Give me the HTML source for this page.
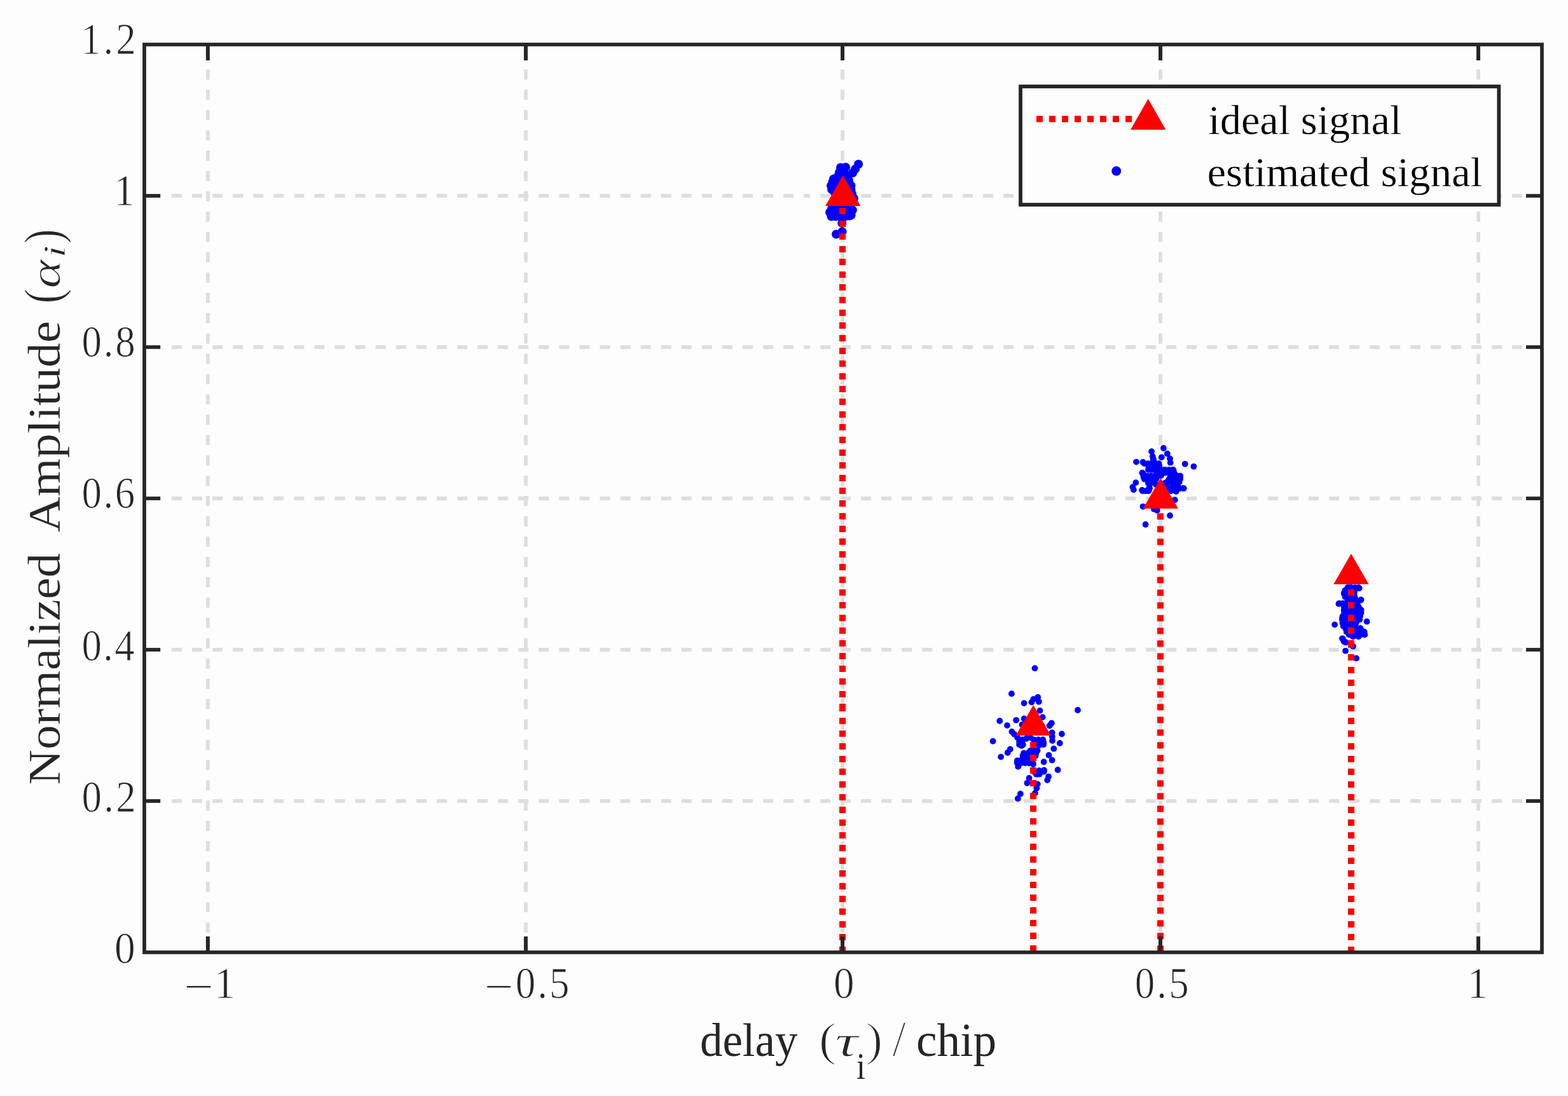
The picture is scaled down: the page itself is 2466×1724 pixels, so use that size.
<!DOCTYPE html>
<html lang="en"><head><meta charset="utf-8"><title>Normalized amplitude vs delay</title>
<style>html,body{margin:0;padding:0;background:#fdfdfd;}svg{display:block;}text{font-family:"Liberation Serif","DejaVu Serif",serif;}</style>
</head><body>
<svg width="2466" height="1724" viewBox="0 0 2466 1724">
<rect x="0" y="0" width="2466" height="1724" fill="#fdfdfd"/>
<g stroke="#dedede" stroke-width="5.8" fill="none">
<line x1="326.9" y1="1499.0" x2="326.9" y2="70.0" stroke-dasharray="16 15.95"/>
<line x1="826.9" y1="1499.0" x2="826.9" y2="70.0" stroke-dasharray="16 15.95"/>
<line x1="1325.0" y1="1499.0" x2="1325.0" y2="70.0" stroke-dasharray="16 15.95"/>
<line x1="1825.0" y1="1499.0" x2="1825.0" y2="70.0" stroke-dasharray="16 15.95"/>
<line x1="2325.0" y1="1499.0" x2="2325.0" y2="70.0" stroke-dasharray="16 15.95"/>
<line x1="237.9" y1="1260.0" x2="1248.2" y2="1260.0" stroke-dasharray="16 16.07"/>
<line x1="1264.2" y1="1260.0" x2="1274.0" y2="1260.0"/>
<line x1="1290.1" y1="1260.0" x2="2425.0" y2="1260.0" stroke-dasharray="16 16"/>
<line x1="237.9" y1="1022.0" x2="1248.2" y2="1022.0" stroke-dasharray="16 16.07"/>
<line x1="1264.2" y1="1022.0" x2="1274.0" y2="1022.0"/>
<line x1="1290.1" y1="1022.0" x2="2425.0" y2="1022.0" stroke-dasharray="16 16"/>
<line x1="237.9" y1="784.0" x2="1248.2" y2="784.0" stroke-dasharray="16 16.07"/>
<line x1="1264.2" y1="784.0" x2="1274.0" y2="784.0"/>
<line x1="1290.1" y1="784.0" x2="2425.0" y2="784.0" stroke-dasharray="16 16"/>
<line x1="237.9" y1="546.0" x2="1248.2" y2="546.0" stroke-dasharray="16 16.07"/>
<line x1="1264.2" y1="546.0" x2="1274.0" y2="546.0"/>
<line x1="1290.1" y1="546.0" x2="2425.0" y2="546.0" stroke-dasharray="16 16"/>
<line x1="237.9" y1="308.0" x2="1248.2" y2="308.0" stroke-dasharray="16 16.07"/>
<line x1="1264.2" y1="308.0" x2="1274.0" y2="308.0"/>
<line x1="1290.1" y1="308.0" x2="2425.0" y2="308.0" stroke-dasharray="16 16"/>
</g>
<g fill="#0000ff">
<circle cx="1350.1" cy="258.3" r="7.0"/>
<circle cx="1345.0" cy="266.0" r="7.0"/>
<circle cx="1341.0" cy="272.0" r="7.0"/>
<circle cx="1330.0" cy="263.0" r="7.0"/>
<circle cx="1322.0" cy="263.5" r="7.0"/>
<circle cx="1320.0" cy="271.0" r="7.0"/>
<circle cx="1318.0" cy="277.0" r="7.0"/>
<circle cx="1311.0" cy="281.5" r="7.0"/>
<circle cx="1309.5" cy="286.0" r="7.0"/>
<circle cx="1307.0" cy="292.0" r="7.0"/>
<circle cx="1308.0" cy="298.0" r="7.0"/>
<circle cx="1313.0" cy="303.0" r="7.0"/>
<circle cx="1338.5" cy="292.0" r="7.0"/>
<circle cx="1338.5" cy="299.0" r="7.0"/>
<circle cx="1340.0" cy="305.0" r="7.0"/>
<circle cx="1343.0" cy="312.0" r="7.0"/>
<circle cx="1326.0" cy="270.0" r="7.0"/>
<circle cx="1333.0" cy="276.0" r="7.0"/>
<circle cx="1326.0" cy="282.0" r="7.0"/>
<circle cx="1318.0" cy="288.0" r="7.0"/>
<circle cx="1330.0" cy="290.0" r="7.0"/>
<circle cx="1320.0" cy="296.0" r="7.0"/>
<circle cx="1335.0" cy="284.0" r="7.0"/>
<circle cx="1305.0" cy="334.0" r="7.0"/>
<circle cx="1307.5" cy="340.5" r="7.0"/>
<circle cx="1311.0" cy="331.0" r="7.0"/>
<circle cx="1340.8" cy="330.5" r="7.0"/>
<circle cx="1338.6" cy="338.5" r="7.0"/>
<circle cx="1336.0" cy="339.5" r="7.0"/>
<circle cx="1318.0" cy="333.0" r="7.0"/>
<circle cx="1326.0" cy="335.0" r="7.0"/>
<circle cx="1333.0" cy="333.0" r="7.0"/>
<circle cx="1320.0" cy="340.0" r="7.0"/>
<circle cx="1314.0" cy="340.5" r="7.0"/>
<circle cx="1328.0" cy="341.0" r="7.0"/>
<circle cx="1308.0" cy="328.0" r="7.0"/>
<circle cx="1338.0" cy="326.0" r="7.0"/>
<circle cx="1324.0" cy="328.0" r="7.0"/>
<circle cx="1316.0" cy="327.0" r="7.0"/>
<circle cx="1331.0" cy="327.0" r="7.0"/>
<circle cx="1324.2" cy="351.0" r="7.0"/>
<circle cx="1315.0" cy="368.5" r="7.0"/>
<circle cx="1324.5" cy="364.5" r="7.0"/>
<circle cx="1627.5" cy="1051.2" r="4.9"/>
<circle cx="1590.9" cy="1091.2" r="4.9"/>
<circle cx="1610.6" cy="1106.1" r="4.9"/>
<circle cx="1625.2" cy="1099.9" r="4.9"/>
<circle cx="1632.2" cy="1096.7" r="4.9"/>
<circle cx="1633.8" cy="1103.8" r="4.9"/>
<circle cx="1622.4" cy="1104.6" r="4.9"/>
<circle cx="1695.0" cy="1117.0" r="4.9"/>
<circle cx="1635.4" cy="1117.9" r="4.9"/>
<circle cx="1639.7" cy="1128.1" r="4.9"/>
<circle cx="1572.2" cy="1134.0" r="4.9"/>
<circle cx="1598.1" cy="1132.8" r="4.9"/>
<circle cx="1610.6" cy="1130.5" r="4.9"/>
<circle cx="1607.5" cy="1139.9" r="4.9"/>
<circle cx="1584.0" cy="1141.1" r="4.9"/>
<circle cx="1653.8" cy="1137.5" r="4.9"/>
<circle cx="1650.7" cy="1141.5" r="4.9"/>
<circle cx="1591.4" cy="1150.9" r="4.9"/>
<circle cx="1654.6" cy="1152.4" r="4.9"/>
<circle cx="1669.9" cy="1154.5" r="4.9"/>
<circle cx="1595.0" cy="1154.8" r="4.9"/>
<circle cx="1561.6" cy="1165.9" r="4.9"/>
<circle cx="1666.8" cy="1169.0" r="4.9"/>
<circle cx="1657.3" cy="1177.7" r="4.9"/>
<circle cx="1655.0" cy="1165.1" r="4.9"/>
<circle cx="1588.7" cy="1178.5" r="4.9"/>
<circle cx="1584.7" cy="1184.0" r="4.9"/>
<circle cx="1574.1" cy="1190.6" r="4.9"/>
<circle cx="1649.5" cy="1187.9" r="4.9"/>
<circle cx="1654.6" cy="1195.7" r="4.9"/>
<circle cx="1641.6" cy="1198.5" r="4.9"/>
<circle cx="1663.6" cy="1211.0" r="4.9"/>
<circle cx="1649.1" cy="1221.6" r="4.9"/>
<circle cx="1647.1" cy="1227.1" r="4.9"/>
<circle cx="1604.8" cy="1248.7" r="4.9"/>
<circle cx="1600.8" cy="1256.2" r="4.9"/>
<circle cx="1601.2" cy="1205.9" r="4.9"/>
<circle cx="1599.7" cy="1198.9" r="4.9"/>
<circle cx="1605.2" cy="1165.9" r="4.9"/>
<circle cx="1606.7" cy="1173.0" r="4.9"/>
<circle cx="1613.8" cy="1162.0" r="4.9"/>
<circle cx="1632.6" cy="1164.3" r="4.9"/>
<circle cx="1641.3" cy="1169.0" r="4.9"/>
<circle cx="1634.2" cy="1172.2" r="4.9"/>
<circle cx="1624.8" cy="1180.8" r="4.9"/>
<circle cx="1610.6" cy="1187.1" r="4.9"/>
<circle cx="1618.5" cy="1184.0" r="4.9"/>
<circle cx="1628.7" cy="1188.7" r="4.9"/>
<circle cx="1610.6" cy="1195.0" r="4.9"/>
<circle cx="1618.5" cy="1196.5" r="4.9"/>
<circle cx="1624.8" cy="1202.0" r="4.9"/>
<circle cx="1634.2" cy="1212.2" r="4.9"/>
<circle cx="1642.0" cy="1211.4" r="4.9"/>
<circle cx="1631.1" cy="1217.7" r="4.9"/>
<circle cx="1626.3" cy="1213.8" r="4.9"/>
<circle cx="1618.5" cy="1224.0" r="4.9"/>
<circle cx="1615.4" cy="1231.8" r="4.9"/>
<circle cx="1631.8" cy="1233.4" r="4.9"/>
<circle cx="1630.3" cy="1239.7" r="4.9"/>
<circle cx="1627.9" cy="1247.5" r="4.9"/>
<circle cx="1600.0" cy="1160.0" r="4.9"/>
<circle cx="1620.0" cy="1160.0" r="4.9"/>
<circle cx="1626.0" cy="1170.0" r="4.9"/>
<circle cx="1654.8" cy="1158.8" r="4.9"/>
<circle cx="1603.1" cy="1163.5" r="4.9"/>
<circle cx="1608.0" cy="1163.5" r="4.9"/>
<circle cx="1625.8" cy="1163.5" r="4.9"/>
<circle cx="1633.0" cy="1163.5" r="4.9"/>
<circle cx="1640.2" cy="1163.5" r="4.9"/>
<circle cx="1603.1" cy="1167.5" r="4.9"/>
<circle cx="1607.2" cy="1167.5" r="4.9"/>
<circle cx="1635.3" cy="1167.5" r="4.9"/>
<circle cx="1641.0" cy="1167.5" r="4.9"/>
<circle cx="1603.1" cy="1171.4" r="4.9"/>
<circle cx="1608.8" cy="1171.4" r="4.9"/>
<circle cx="1635.3" cy="1171.4" r="4.9"/>
<circle cx="1641.0" cy="1171.4" r="4.9"/>
<circle cx="1620.4" cy="1180.8" r="4.9"/>
<circle cx="1625.9" cy="1180.8" r="4.9"/>
<circle cx="1631.5" cy="1180.8" r="4.9"/>
<circle cx="1610.1" cy="1184.7" r="4.9"/>
<circle cx="1616.5" cy="1184.7" r="4.9"/>
<circle cx="1622.8" cy="1184.7" r="4.9"/>
<circle cx="1629.2" cy="1184.7" r="4.9"/>
<circle cx="1608.6" cy="1188.7" r="4.9"/>
<circle cx="1615.1" cy="1188.7" r="4.9"/>
<circle cx="1608.6" cy="1192.6" r="4.9"/>
<circle cx="1615.1" cy="1192.6" r="4.9"/>
<circle cx="1599.9" cy="1196.5" r="4.9"/>
<circle cx="1605.0" cy="1196.5" r="4.9"/>
<circle cx="1610.0" cy="1196.5" r="4.9"/>
<circle cx="1615.1" cy="1196.5" r="4.9"/>
<circle cx="1599.9" cy="1200.4" r="4.9"/>
<circle cx="1606.1" cy="1200.4" r="4.9"/>
<circle cx="1612.2" cy="1200.4" r="4.9"/>
<circle cx="1618.3" cy="1200.4" r="4.9"/>
<circle cx="1624.5" cy="1200.4" r="4.9"/>
<circle cx="1635.3" cy="1213.8" r="4.9"/>
<circle cx="1641.8" cy="1213.8" r="4.9"/>
<circle cx="1629.8" cy="1217.7" r="4.9"/>
<circle cx="1634.7" cy="1217.7" r="4.9"/>
<circle cx="1829.9" cy="705.0" r="4.9"/>
<circle cx="1811.1" cy="710.2" r="4.9"/>
<circle cx="1835.8" cy="713.7" r="4.9"/>
<circle cx="1826.8" cy="719.3" r="4.9"/>
<circle cx="1812.8" cy="717.9" r="4.9"/>
<circle cx="1840.0" cy="721.4" r="4.9"/>
<circle cx="1840.7" cy="727.7" r="4.9"/>
<circle cx="1787.0" cy="726.6" r="4.9"/>
<circle cx="1797.5" cy="727.0" r="4.9"/>
<circle cx="1863.7" cy="729.8" r="4.9"/>
<circle cx="1877.4" cy="733.8" r="4.9"/>
<circle cx="1814.2" cy="724.9" r="4.9"/>
<circle cx="1805.8" cy="731.9" r="4.9"/>
<circle cx="1816.3" cy="731.9" r="4.9"/>
<circle cx="1823.3" cy="733.3" r="4.9"/>
<circle cx="1797.5" cy="744.4" r="4.9"/>
<circle cx="1809.3" cy="738.8" r="4.9"/>
<circle cx="1819.8" cy="740.2" r="4.9"/>
<circle cx="1830.3" cy="740.2" r="4.9"/>
<circle cx="1845.6" cy="740.2" r="4.9"/>
<circle cx="1840.7" cy="745.8" r="4.9"/>
<circle cx="1849.1" cy="747.2" r="4.9"/>
<circle cx="1856.1" cy="749.3" r="4.9"/>
<circle cx="1798.8" cy="750.7" r="4.9"/>
<circle cx="1809.3" cy="751.4" r="4.9"/>
<circle cx="1818.4" cy="750.0" r="4.9"/>
<circle cx="1786.3" cy="759.1" r="4.9"/>
<circle cx="1781.4" cy="766.1" r="4.9"/>
<circle cx="1782.8" cy="770.3" r="4.9"/>
<circle cx="1796.1" cy="770.9" r="4.9"/>
<circle cx="1805.8" cy="759.8" r="4.9"/>
<circle cx="1807.2" cy="768.2" r="4.9"/>
<circle cx="1837.2" cy="756.3" r="4.9"/>
<circle cx="1847.7" cy="756.3" r="4.9"/>
<circle cx="1854.7" cy="754.2" r="4.9"/>
<circle cx="1844.2" cy="765.4" r="4.9"/>
<circle cx="1861.7" cy="768.2" r="4.9"/>
<circle cx="1853.3" cy="766.8" r="4.9"/>
<circle cx="1849.8" cy="773.0" r="4.9"/>
<circle cx="1840.7" cy="770.3" r="4.9"/>
<circle cx="1847.7" cy="786.3" r="4.9"/>
<circle cx="1797.5" cy="796.8" r="4.9"/>
<circle cx="1840.0" cy="811.0" r="4.9"/>
<circle cx="1801.6" cy="825.0" r="4.9"/>
<circle cx="1819.8" cy="802.8" r="4.9"/>
<circle cx="1814.9" cy="800.7" r="4.9"/>
<circle cx="1826.0" cy="748.0" r="4.9"/>
<circle cx="1832.0" cy="760.0" r="4.9"/>
<circle cx="1818.0" cy="762.0" r="4.9"/>
<circle cx="1813.6" cy="722.8" r="4.9"/>
<circle cx="1814.1" cy="722.8" r="4.9"/>
<circle cx="1799.7" cy="729.1" r="4.9"/>
<circle cx="1805.4" cy="729.1" r="4.9"/>
<circle cx="1811.1" cy="729.1" r="4.9"/>
<circle cx="1816.8" cy="729.1" r="4.9"/>
<circle cx="1822.5" cy="729.1" r="4.9"/>
<circle cx="1806.6" cy="734.0" r="4.9"/>
<circle cx="1812.1" cy="734.0" r="4.9"/>
<circle cx="1817.7" cy="734.0" r="4.9"/>
<circle cx="1823.2" cy="734.0" r="4.9"/>
<circle cx="1805.9" cy="738.8" r="4.9"/>
<circle cx="1812.4" cy="738.8" r="4.9"/>
<circle cx="1818.9" cy="738.8" r="4.9"/>
<circle cx="1825.4" cy="738.8" r="4.9"/>
<circle cx="1831.8" cy="738.8" r="4.9"/>
<circle cx="1838.3" cy="738.8" r="4.9"/>
<circle cx="1844.8" cy="738.8" r="4.9"/>
<circle cx="1796.4" cy="743.7" r="4.9"/>
<circle cx="1819.2" cy="743.7" r="4.9"/>
<circle cx="1825.9" cy="743.7" r="4.9"/>
<circle cx="1832.7" cy="743.7" r="4.9"/>
<circle cx="1839.4" cy="743.7" r="4.9"/>
<circle cx="1846.2" cy="743.7" r="4.9"/>
<circle cx="1798.3" cy="748.6" r="4.9"/>
<circle cx="1804.1" cy="748.6" r="4.9"/>
<circle cx="1810.0" cy="748.6" r="4.9"/>
<circle cx="1815.9" cy="748.6" r="4.9"/>
<circle cx="1821.8" cy="748.6" r="4.9"/>
<circle cx="1840.8" cy="748.6" r="4.9"/>
<circle cx="1845.9" cy="748.6" r="4.9"/>
<circle cx="1850.9" cy="748.6" r="4.9"/>
<circle cx="1856.0" cy="748.6" r="4.9"/>
<circle cx="1799.7" cy="753.5" r="4.9"/>
<circle cx="1805.9" cy="753.5" r="4.9"/>
<circle cx="1812.1" cy="753.5" r="4.9"/>
<circle cx="1818.3" cy="753.5" r="4.9"/>
<circle cx="1838.7" cy="753.5" r="4.9"/>
<circle cx="1844.5" cy="753.5" r="4.9"/>
<circle cx="1850.2" cy="753.5" r="4.9"/>
<circle cx="1856.0" cy="753.5" r="4.9"/>
<circle cx="1808.0" cy="758.4" r="4.9"/>
<circle cx="1814.8" cy="758.4" r="4.9"/>
<circle cx="1835.3" cy="758.4" r="4.9"/>
<circle cx="1841.7" cy="758.4" r="4.9"/>
<circle cx="1848.1" cy="758.4" r="4.9"/>
<circle cx="1854.6" cy="758.4" r="4.9"/>
<circle cx="1807.9" cy="763.3" r="4.9"/>
<circle cx="1834.4" cy="763.3" r="4.9"/>
<circle cx="1847.7" cy="763.3" r="4.9"/>
<circle cx="1807.9" cy="768.2" r="4.9"/>
<circle cx="1838.7" cy="768.2" r="4.9"/>
<circle cx="1844.3" cy="768.2" r="4.9"/>
<circle cx="1849.8" cy="768.2" r="4.9"/>
<circle cx="1855.3" cy="768.2" r="4.9"/>
<circle cx="1860.8" cy="768.2" r="4.9"/>
<circle cx="1796.9" cy="772.3" r="4.9"/>
<circle cx="1801.6" cy="772.3" r="4.9"/>
<circle cx="1806.4" cy="772.3" r="4.9"/>
<circle cx="1841.5" cy="772.3" r="4.9"/>
<circle cx="1849.0" cy="772.3" r="4.9"/>
<circle cx="2122.4" cy="924.2" r="4.9"/>
<circle cx="2137.7" cy="925.3" r="4.9"/>
<circle cx="2113.9" cy="932.7" r="4.9"/>
<circle cx="2128.0" cy="932.7" r="4.9"/>
<circle cx="2116.7" cy="938.3" r="4.9"/>
<circle cx="2140.5" cy="943.4" r="4.9"/>
<circle cx="2125.2" cy="941.7" r="4.9"/>
<circle cx="2105.4" cy="949.7" r="4.9"/>
<circle cx="2113.9" cy="950.8" r="4.9"/>
<circle cx="2133.7" cy="952.0" r="4.9"/>
<circle cx="2138.2" cy="958.2" r="4.9"/>
<circle cx="2113.9" cy="961.0" r="4.9"/>
<circle cx="2125.2" cy="962.2" r="4.9"/>
<circle cx="2140.5" cy="963.9" r="4.9"/>
<circle cx="2111.0" cy="972.4" r="4.9"/>
<circle cx="2136.5" cy="971.2" r="4.9"/>
<circle cx="2149.6" cy="977.7" r="4.9"/>
<circle cx="2099.1" cy="982.6" r="4.9"/>
<circle cx="2112.2" cy="980.9" r="4.9"/>
<circle cx="2130.9" cy="980.9" r="4.9"/>
<circle cx="2116.7" cy="986.5" r="4.9"/>
<circle cx="2139.4" cy="988.2" r="4.9"/>
<circle cx="2118.4" cy="993.9" r="4.9"/>
<circle cx="2145.0" cy="996.7" r="4.9"/>
<circle cx="2133.7" cy="995.0" r="4.9"/>
<circle cx="2128.0" cy="1000.9" r="4.9"/>
<circle cx="2136.5" cy="998.6" r="4.9"/>
<circle cx="2111.0" cy="1004.3" r="4.9"/>
<circle cx="2116.7" cy="1010.5" r="4.9"/>
<circle cx="2128.0" cy="1016.7" r="4.9"/>
<circle cx="2116.1" cy="1023.8" r="4.9"/>
<circle cx="2133.1" cy="1035.5" r="4.9"/>
<circle cx="2125.0" cy="952.0" r="4.9"/>
<circle cx="2125.0" cy="972.0" r="4.9"/>
<circle cx="2122.0" cy="984.0" r="4.9"/>
<circle cx="2119.4" cy="924.2" r="4.9"/>
<circle cx="2125.2" cy="924.2" r="4.9"/>
<circle cx="2130.9" cy="924.2" r="4.9"/>
<circle cx="2136.6" cy="924.2" r="4.9"/>
<circle cx="2115.5" cy="928.7" r="4.9"/>
<circle cx="2122.9" cy="928.7" r="4.9"/>
<circle cx="2130.4" cy="928.7" r="4.9"/>
<circle cx="2113.8" cy="933.8" r="4.9"/>
<circle cx="2119.1" cy="933.8" r="4.9"/>
<circle cx="2124.5" cy="933.8" r="4.9"/>
<circle cx="2129.8" cy="933.8" r="4.9"/>
<circle cx="2115.5" cy="938.9" r="4.9"/>
<circle cx="2122.9" cy="938.9" r="4.9"/>
<circle cx="2130.4" cy="938.9" r="4.9"/>
<circle cx="2119.4" cy="944.0" r="4.9"/>
<circle cx="2126.3" cy="944.0" r="4.9"/>
<circle cx="2133.2" cy="944.0" r="4.9"/>
<circle cx="2140.0" cy="944.0" r="4.9"/>
<circle cx="2106.4" cy="949.1" r="4.9"/>
<circle cx="2112.0" cy="949.1" r="4.9"/>
<circle cx="2117.6" cy="949.1" r="4.9"/>
<circle cx="2123.2" cy="949.1" r="4.9"/>
<circle cx="2128.8" cy="949.1" r="4.9"/>
<circle cx="2134.4" cy="949.1" r="4.9"/>
<circle cx="2113.8" cy="954.2" r="4.9"/>
<circle cx="2119.5" cy="954.2" r="4.9"/>
<circle cx="2125.2" cy="954.2" r="4.9"/>
<circle cx="2130.9" cy="954.2" r="4.9"/>
<circle cx="2136.6" cy="954.2" r="4.9"/>
<circle cx="2113.8" cy="959.3" r="4.9"/>
<circle cx="2120.5" cy="959.3" r="4.9"/>
<circle cx="2127.2" cy="959.3" r="4.9"/>
<circle cx="2133.9" cy="959.3" r="4.9"/>
<circle cx="2140.6" cy="959.3" r="4.9"/>
<circle cx="2114.3" cy="964.4" r="4.9"/>
<circle cx="2120.7" cy="964.4" r="4.9"/>
<circle cx="2127.2" cy="964.4" r="4.9"/>
<circle cx="2133.6" cy="964.4" r="4.9"/>
<circle cx="2140.0" cy="964.4" r="4.9"/>
<circle cx="2111.5" cy="969.5" r="4.9"/>
<circle cx="2117.0" cy="969.5" r="4.9"/>
<circle cx="2122.5" cy="969.5" r="4.9"/>
<circle cx="2127.9" cy="969.5" r="4.9"/>
<circle cx="2133.4" cy="969.5" r="4.9"/>
<circle cx="2138.9" cy="969.5" r="4.9"/>
<circle cx="2110.9" cy="974.6" r="4.9"/>
<circle cx="2116.4" cy="974.6" r="4.9"/>
<circle cx="2121.9" cy="974.6" r="4.9"/>
<circle cx="2127.4" cy="974.6" r="4.9"/>
<circle cx="2132.9" cy="974.6" r="4.9"/>
<circle cx="2138.3" cy="974.6" r="4.9"/>
<circle cx="2111.5" cy="979.7" r="4.9"/>
<circle cx="2116.8" cy="979.7" r="4.9"/>
<circle cx="2122.1" cy="979.7" r="4.9"/>
<circle cx="2127.4" cy="979.7" r="4.9"/>
<circle cx="2132.7" cy="979.7" r="4.9"/>
<circle cx="2112.6" cy="984.8" r="4.9"/>
<circle cx="2118.9" cy="984.8" r="4.9"/>
<circle cx="2125.2" cy="984.8" r="4.9"/>
<circle cx="2131.5" cy="984.8" r="4.9"/>
<circle cx="2116.6" cy="989.4" r="4.9"/>
<circle cx="2122.4" cy="989.4" r="4.9"/>
<circle cx="2128.3" cy="989.4" r="4.9"/>
<circle cx="2134.2" cy="989.4" r="4.9"/>
<circle cx="2140.0" cy="989.4" r="4.9"/>
<circle cx="2117.7" cy="993.9" r="4.9"/>
<circle cx="2123.3" cy="993.9" r="4.9"/>
<circle cx="2128.9" cy="993.9" r="4.9"/>
<circle cx="2134.5" cy="993.9" r="4.9"/>
<circle cx="2140.1" cy="993.9" r="4.9"/>
<circle cx="2145.7" cy="993.9" r="4.9"/>
<circle cx="2121.7" cy="998.4" r="4.9"/>
<circle cx="2127.8" cy="998.4" r="4.9"/>
<circle cx="2134.0" cy="998.4" r="4.9"/>
<circle cx="2140.1" cy="998.4" r="4.9"/>
<circle cx="2146.3" cy="998.4" r="4.9"/>
<circle cx="2127.9" cy="1001.4" r="4.9"/>
<circle cx="2136.6" cy="1001.4" r="4.9"/>
<circle cx="2111.6" cy="1004.8" r="4.9"/>
<circle cx="2113.8" cy="1009.4" r="4.9"/>
<circle cx="2115.1" cy="1009.4" r="4.9"/>
</g>
<g fill="#ff0000">
<rect x="1320.0" y="1489.00" width="10" height="9.00"/>
<rect x="1320.0" y="1469.00" width="10" height="10.00"/>
<rect x="1320.0" y="1449.00" width="10" height="10.00"/>
<rect x="1320.0" y="1429.00" width="10" height="10.00"/>
<rect x="1320.0" y="1409.00" width="10" height="10.00"/>
<rect x="1320.0" y="1389.00" width="10" height="10.00"/>
<rect x="1320.0" y="1369.00" width="10" height="10.00"/>
<rect x="1320.0" y="1349.00" width="10" height="10.00"/>
<rect x="1320.0" y="1329.00" width="10" height="10.00"/>
<rect x="1320.0" y="1309.00" width="10" height="10.00"/>
<rect x="1320.0" y="1289.00" width="10" height="10.00"/>
<rect x="1320.0" y="1269.00" width="10" height="10.00"/>
<rect x="1320.0" y="1249.00" width="10" height="10.00"/>
<rect x="1320.0" y="1229.00" width="10" height="10.00"/>
<rect x="1320.0" y="1209.00" width="10" height="10.00"/>
<rect x="1320.0" y="1189.00" width="10" height="10.00"/>
<rect x="1320.0" y="1169.00" width="10" height="10.00"/>
<rect x="1320.0" y="1149.00" width="10" height="10.00"/>
<rect x="1320.0" y="1129.00" width="10" height="10.00"/>
<rect x="1320" y="1107" width="10" height="12"/>
<rect x="1320.0" y="1087.00" width="10" height="10.00"/>
<rect x="1320.0" y="1067.00" width="10" height="10.00"/>
<rect x="1320.0" y="1047.00" width="10" height="10.00"/>
<rect x="1320.0" y="1027.00" width="10" height="10.00"/>
<rect x="1320.0" y="1007.00" width="10" height="10.00"/>
<rect x="1320.0" y="987.00" width="10" height="10.00"/>
<rect x="1320.0" y="967.00" width="10" height="10.00"/>
<rect x="1320.0" y="947.00" width="10" height="10.00"/>
<rect x="1320.0" y="927.00" width="10" height="10.00"/>
<rect x="1320.0" y="907.00" width="10" height="10.00"/>
<rect x="1320.0" y="887.00" width="10" height="10.00"/>
<rect x="1320.0" y="867.00" width="10" height="10.00"/>
<rect x="1320.0" y="847.00" width="10" height="10.00"/>
<rect x="1320.0" y="827.00" width="10" height="10.00"/>
<rect x="1320.0" y="807.00" width="10" height="10.00"/>
<rect x="1320.0" y="787.00" width="10" height="10.00"/>
<rect x="1320.0" y="767.00" width="10" height="10.00"/>
<rect x="1320.0" y="747.00" width="10" height="10.00"/>
<rect x="1320.0" y="727.00" width="10" height="10.00"/>
<rect x="1320.0" y="707.00" width="10" height="10.00"/>
<rect x="1320.0" y="687.00" width="10" height="10.00"/>
<rect x="1320.0" y="667.00" width="10" height="10.00"/>
<rect x="1320.0" y="647.00" width="10" height="10.00"/>
<rect x="1320.0" y="627.00" width="10" height="10.00"/>
<rect x="1320.0" y="607.00" width="10" height="10.00"/>
<rect x="1320.0" y="587.00" width="10" height="10.00"/>
<rect x="1320.0" y="567.00" width="10" height="10.00"/>
<rect x="1320.0" y="547.00" width="10" height="10.00"/>
<rect x="1320.0" y="527.00" width="10" height="10.00"/>
<rect x="1320.0" y="507.00" width="10" height="10.00"/>
<rect x="1320.0" y="487.00" width="10" height="10.00"/>
<rect x="1320.0" y="467.00" width="10" height="10.00"/>
<rect x="1320.0" y="447.00" width="10" height="10.00"/>
<rect x="1320.0" y="427.00" width="10" height="10.00"/>
<rect x="1320.0" y="407.00" width="10" height="10.00"/>
<rect x="1320.0" y="387.00" width="10" height="10.00"/>
<rect x="1320.0" y="367.00" width="10" height="10.00"/>
<rect x="1320.0" y="347.00" width="10" height="10.00"/>
<rect x="1320.0" y="327.00" width="10" height="10.00"/>
<rect x="1320.0" y="308.00" width="10" height="9.00"/>
<rect x="1620.0" y="1487.00" width="10" height="10.00"/>
<rect x="1620.0" y="1467.00" width="10" height="10.00"/>
<rect x="1620.0" y="1447.00" width="10" height="10.00"/>
<rect x="1620.0" y="1427.00" width="10" height="10.00"/>
<rect x="1620.0" y="1407.00" width="10" height="10.00"/>
<rect x="1620.0" y="1387.00" width="10" height="10.00"/>
<rect x="1620.0" y="1367.00" width="10" height="10.00"/>
<rect x="1620.0" y="1347.00" width="10" height="10.00"/>
<rect x="1620.0" y="1327.00" width="10" height="10.00"/>
<rect x="1620.0" y="1307.00" width="10" height="10.00"/>
<rect x="1620.0" y="1287.00" width="10" height="10.00"/>
<rect x="1620.0" y="1267.00" width="10" height="10.00"/>
<rect x="1620.0" y="1247.00" width="10" height="10.00"/>
<rect x="1620.0" y="1227.00" width="10" height="10.00"/>
<rect x="1620.0" y="1207.00" width="10" height="10.00"/>
<rect x="1620.0" y="1187.00" width="10" height="10.00"/>
<rect x="1620.0" y="1167.00" width="10" height="10.00"/>
<rect x="1620.0" y="1147.00" width="10" height="10.00"/>
<rect x="1820.0" y="1487.40" width="10" height="10.00"/>
<rect x="1820.0" y="1467.40" width="10" height="10.00"/>
<rect x="1820.0" y="1447.40" width="10" height="10.00"/>
<rect x="1820.0" y="1427.40" width="10" height="10.00"/>
<rect x="1820.0" y="1407.40" width="10" height="10.00"/>
<rect x="1820.0" y="1387.40" width="10" height="10.00"/>
<rect x="1820.0" y="1367.40" width="10" height="10.00"/>
<rect x="1820.0" y="1347.40" width="10" height="10.00"/>
<rect x="1820.0" y="1327.40" width="10" height="10.00"/>
<rect x="1820.0" y="1307.40" width="10" height="10.00"/>
<rect x="1820.0" y="1287.40" width="10" height="10.00"/>
<rect x="1820.0" y="1267.40" width="10" height="10.00"/>
<rect x="1820.0" y="1247.40" width="10" height="10.00"/>
<rect x="1820.0" y="1227.40" width="10" height="10.00"/>
<rect x="1820.0" y="1207.40" width="10" height="10.00"/>
<rect x="1820.0" y="1187.40" width="10" height="10.00"/>
<rect x="1820.0" y="1167.40" width="10" height="10.00"/>
<rect x="1820.0" y="1147.40" width="10" height="10.00"/>
<rect x="1820.0" y="1127.40" width="10" height="10.00"/>
<rect x="1820.0" y="1107.40" width="10" height="10.00"/>
<rect x="1820.0" y="1087.40" width="10" height="10.00"/>
<rect x="1820.0" y="1067.40" width="10" height="10.00"/>
<rect x="1820.0" y="1047.40" width="10" height="10.00"/>
<rect x="1820.0" y="1027.40" width="10" height="10.00"/>
<rect x="1820.0" y="1007.40" width="10" height="10.00"/>
<rect x="1820.0" y="987.40" width="10" height="10.00"/>
<rect x="1820.0" y="967.40" width="10" height="10.00"/>
<rect x="1820.0" y="947.40" width="10" height="10.00"/>
<rect x="1820.0" y="927.40" width="10" height="10.00"/>
<rect x="1820.0" y="907.40" width="10" height="10.00"/>
<rect x="1820.0" y="887.40" width="10" height="10.00"/>
<rect x="1820.0" y="867.40" width="10" height="10.00"/>
<rect x="1820.0" y="847.40" width="10" height="10.00"/>
<rect x="1820.0" y="827.40" width="10" height="10.00"/>
<rect x="1820.0" y="807.40" width="10" height="10.00"/>
<rect x="1820.0" y="787.40" width="10" height="10.00"/>
<rect x="2120.0" y="1489.00" width="10" height="9.00"/>
<rect x="2120.0" y="1469.00" width="10" height="10.00"/>
<rect x="2120.0" y="1449.00" width="10" height="10.00"/>
<rect x="2120.0" y="1429.00" width="10" height="10.00"/>
<rect x="2120.0" y="1409.00" width="10" height="10.00"/>
<rect x="2120.0" y="1389.00" width="10" height="10.00"/>
<rect x="2120.0" y="1369.00" width="10" height="10.00"/>
<rect x="2120.0" y="1349.00" width="10" height="10.00"/>
<rect x="2120.0" y="1329.00" width="10" height="10.00"/>
<rect x="2120.0" y="1309.00" width="10" height="10.00"/>
<rect x="2120.0" y="1289.00" width="10" height="10.00"/>
<rect x="2120.0" y="1269.00" width="10" height="10.00"/>
<rect x="2120.0" y="1249.00" width="10" height="10.00"/>
<rect x="2120.0" y="1229.00" width="10" height="10.00"/>
<rect x="2120.0" y="1209.00" width="10" height="10.00"/>
<rect x="2120.0" y="1189.00" width="10" height="10.00"/>
<rect x="2120.0" y="1169.00" width="10" height="10.00"/>
<rect x="2120.0" y="1149.00" width="10" height="10.00"/>
<rect x="2120.0" y="1129.00" width="10" height="10.00"/>
<rect x="2120.0" y="1109.00" width="10" height="10.00"/>
<rect x="2120.0" y="1089.00" width="10" height="10.00"/>
<rect x="2120.0" y="1069.00" width="10" height="10.00"/>
<rect x="2120.0" y="1049.00" width="10" height="10.00"/>
<rect x="2120.0" y="1029.00" width="10" height="10.00"/>
<rect x="2120" y="1007" width="10" height="12"/>
<rect x="2120.0" y="987.00" width="10" height="10.00"/>
<rect x="2120.0" y="967.00" width="10" height="10.00"/>
<rect x="2120.0" y="947.00" width="10" height="10.00"/>
<rect x="2120.0" y="927.00" width="10" height="10.00"/>
<rect x="2120.0" y="907.00" width="10" height="10.00"/>
<polygon points="1325.7,276.0 1353.4,324.1 1298.0,324.1"/>
<polygon points="1625.2,1109.0 1652.9,1157.1 1597.5,1157.1"/>
<polygon points="1825.3,752.0 1853.0,800.1 1797.6,800.1"/>
<polygon points="2125.0,871.0 2152.7,919.1 2097.3,919.1"/>
</g>
<g stroke="#262626" stroke-width="5.7" fill="none" stroke-linecap="butt">
<rect x="227.0" y="70.0" width="2198.0" height="1428.0"/>
<line x1="326.9" y1="1498.0" x2="326.9" y2="1473.0" stroke-width="6"/>
<line x1="326.9" y1="70.0" x2="326.9" y2="95.0" stroke-width="6"/>
<line x1="826.9" y1="1498.0" x2="826.9" y2="1473.0" stroke-width="6"/>
<line x1="826.9" y1="70.0" x2="826.9" y2="95.0" stroke-width="6"/>
<line x1="1325.0" y1="1498.0" x2="1325.0" y2="1473.0" stroke-width="6"/>
<line x1="1325.0" y1="70.0" x2="1325.0" y2="95.0" stroke-width="6"/>
<line x1="1825.0" y1="1498.0" x2="1825.0" y2="1473.0" stroke-width="6"/>
<line x1="1825.0" y1="70.0" x2="1825.0" y2="95.0" stroke-width="6"/>
<line x1="2325.0" y1="1498.0" x2="2325.0" y2="1473.0" stroke-width="6"/>
<line x1="2325.0" y1="70.0" x2="2325.0" y2="95.0" stroke-width="6"/>
<line x1="227.0" y1="1260.0" x2="252.0" y2="1260.0"/>
<line x1="2425.0" y1="1260.0" x2="2400.0" y2="1260.0"/>
<line x1="227.0" y1="1022.0" x2="252.0" y2="1022.0"/>
<line x1="2425.0" y1="1022.0" x2="2400.0" y2="1022.0"/>
<line x1="227.0" y1="784.0" x2="252.0" y2="784.0"/>
<line x1="2425.0" y1="784.0" x2="2400.0" y2="784.0"/>
<line x1="227.0" y1="546.0" x2="252.0" y2="546.0"/>
<line x1="2425.0" y1="546.0" x2="2400.0" y2="546.0"/>
<line x1="227.0" y1="308.0" x2="252.0" y2="308.0"/>
<line x1="2425.0" y1="308.0" x2="2400.0" y2="308.0"/>
</g>
<rect x="1605" y="136" width="752.3" height="186" fill="#fdfdfd" stroke="#262626" stroke-width="5.8"/>
<g fill="#ff0000">
<rect x="1630.0" y="182.2" width="10" height="10"/>
<rect x="1650.0" y="182.2" width="10" height="10"/>
<rect x="1670.0" y="182.2" width="10" height="10"/>
<rect x="1690.0" y="182.2" width="10" height="10"/>
<rect x="1710.0" y="182.2" width="10" height="10"/>
<rect x="1730.0" y="182.2" width="10" height="10"/>
<rect x="1750.0" y="182.2" width="10" height="10"/>
<rect x="1770.0" y="182.2" width="10" height="10"/>
<polygon points="1805.7,155.4 1833.4,203.9 1778.0,203.9"/>
</g>
<circle cx="1755.7" cy="269" r="7.5" fill="#0000ff"/>
<text xml:space="preserve" fill="#262626"><tspan x="127.14" y="85.20" font-size="69.50" textLength="31.45" lengthAdjust="spacingAndGlyphs" stroke="#fdfdfd" stroke-width="1.00" paint-order="fill stroke" stroke-linejoin="round">1</tspan><tspan x="162.54" y="85.20" font-size="69.50" textLength="15.72" lengthAdjust="spacingAndGlyphs" stroke="#fdfdfd" stroke-width="1.00" paint-order="fill stroke" stroke-linejoin="round">.</tspan><tspan x="182.21" y="85.20" font-size="69.50" textLength="31.45" lengthAdjust="spacingAndGlyphs" stroke="#fdfdfd" stroke-width="1.00" paint-order="fill stroke" stroke-linejoin="round">2</tspan></text>
<text xml:space="preserve" fill="#262626"><tspan x="179.06" y="323.20" font-size="69.50" textLength="33.00" lengthAdjust="spacingAndGlyphs" stroke="#fdfdfd" stroke-width="1.00" paint-order="fill stroke" stroke-linejoin="round">1</tspan></text>
<text xml:space="preserve" fill="#262626"><tspan x="128.58" y="560.80" font-size="69.50" textLength="31.45" lengthAdjust="spacingAndGlyphs" stroke="#fdfdfd" stroke-width="1.00" paint-order="fill stroke" stroke-linejoin="round">0</tspan><tspan x="162.79" y="560.80" font-size="69.50" textLength="15.72" lengthAdjust="spacingAndGlyphs" stroke="#fdfdfd" stroke-width="1.00" paint-order="fill stroke" stroke-linejoin="round">.</tspan><tspan x="181.27" y="560.80" font-size="69.50" textLength="31.45" lengthAdjust="spacingAndGlyphs" stroke="#fdfdfd" stroke-width="1.00" paint-order="fill stroke" stroke-linejoin="round">8</tspan></text>
<text xml:space="preserve" fill="#262626"><tspan x="128.58" y="798.70" font-size="69.50" textLength="31.45" lengthAdjust="spacingAndGlyphs" stroke="#fdfdfd" stroke-width="1.00" paint-order="fill stroke" stroke-linejoin="round">0</tspan><tspan x="162.47" y="798.70" font-size="69.50" textLength="15.72" lengthAdjust="spacingAndGlyphs" stroke="#fdfdfd" stroke-width="1.00" paint-order="fill stroke" stroke-linejoin="round">.</tspan><tspan x="180.64" y="798.70" font-size="69.50" textLength="31.45" lengthAdjust="spacingAndGlyphs" stroke="#fdfdfd" stroke-width="1.00" paint-order="fill stroke" stroke-linejoin="round">6</tspan></text>
<text xml:space="preserve" fill="#262626"><tspan x="128.58" y="1038.80" font-size="69.50" textLength="31.45" lengthAdjust="spacingAndGlyphs" stroke="#fdfdfd" stroke-width="1.00" paint-order="fill stroke" stroke-linejoin="round">0</tspan><tspan x="162.25" y="1038.80" font-size="69.50" textLength="15.72" lengthAdjust="spacingAndGlyphs" stroke="#fdfdfd" stroke-width="1.00" paint-order="fill stroke" stroke-linejoin="round">.</tspan><tspan x="180.19" y="1038.80" font-size="69.50" textLength="31.45" lengthAdjust="spacingAndGlyphs" stroke="#fdfdfd" stroke-width="1.00" paint-order="fill stroke" stroke-linejoin="round">4</tspan></text>
<text xml:space="preserve" fill="#262626"><tspan x="128.58" y="1276.80" font-size="69.50" textLength="31.45" lengthAdjust="spacingAndGlyphs" stroke="#fdfdfd" stroke-width="1.00" paint-order="fill stroke" stroke-linejoin="round">0</tspan><tspan x="163.26" y="1276.80" font-size="69.50" textLength="15.72" lengthAdjust="spacingAndGlyphs" stroke="#fdfdfd" stroke-width="1.00" paint-order="fill stroke" stroke-linejoin="round">.</tspan><tspan x="182.21" y="1276.80" font-size="69.50" textLength="31.45" lengthAdjust="spacingAndGlyphs" stroke="#fdfdfd" stroke-width="1.00" paint-order="fill stroke" stroke-linejoin="round">2</tspan></text>
<text xml:space="preserve" fill="#262626"><tspan x="180.08" y="1514.80" font-size="69.50" textLength="32.74" lengthAdjust="spacingAndGlyphs" stroke="#fdfdfd" stroke-width="1.00" paint-order="fill stroke" stroke-linejoin="round">0</tspan></text>
<text xml:space="preserve" fill="#262626"><tspan x="289.16" y="1573.98" font-size="66.00" textLength="46.70" lengthAdjust="spacingAndGlyphs" stroke="#fdfdfd" stroke-width="0.80" paint-order="fill stroke" stroke-linejoin="round">−</tspan><tspan x="336.86" y="1569.50" font-size="69.50" textLength="33.57" lengthAdjust="spacingAndGlyphs" stroke="#fdfdfd" stroke-width="1.00" paint-order="fill stroke" stroke-linejoin="round">1</tspan></text>
<text xml:space="preserve" fill="#262626"><tspan x="761.86" y="1573.98" font-size="66.00" textLength="45.60" lengthAdjust="spacingAndGlyphs" stroke="#fdfdfd" stroke-width="0.80" paint-order="fill stroke" stroke-linejoin="round">−</tspan><tspan x="810.68" y="1569.50" font-size="69.50" textLength="31.45" lengthAdjust="spacingAndGlyphs" stroke="#fdfdfd" stroke-width="1.00" paint-order="fill stroke" stroke-linejoin="round">0</tspan><tspan x="845.19" y="1569.50" font-size="69.50" textLength="15.72" lengthAdjust="spacingAndGlyphs" stroke="#fdfdfd" stroke-width="1.00" paint-order="fill stroke" stroke-linejoin="round">.</tspan><tspan x="863.97" y="1569.50" font-size="69.50" textLength="31.45" lengthAdjust="spacingAndGlyphs" stroke="#fdfdfd" stroke-width="1.00" paint-order="fill stroke" stroke-linejoin="round">5</tspan></text>
<text xml:space="preserve" fill="#262626"><tspan x="1311.10" y="1569.50" font-size="69.50" textLength="32.50" lengthAdjust="spacingAndGlyphs" stroke="#fdfdfd" stroke-width="1.00" paint-order="fill stroke" stroke-linejoin="round">0</tspan></text>
<text xml:space="preserve" fill="#262626"><tspan x="1784.68" y="1569.50" font-size="69.50" textLength="31.45" lengthAdjust="spacingAndGlyphs" stroke="#fdfdfd" stroke-width="1.00" paint-order="fill stroke" stroke-linejoin="round">0</tspan><tspan x="1819.34" y="1569.50" font-size="69.50" textLength="15.72" lengthAdjust="spacingAndGlyphs" stroke="#fdfdfd" stroke-width="1.00" paint-order="fill stroke" stroke-linejoin="round">.</tspan><tspan x="1838.27" y="1569.50" font-size="69.50" textLength="31.45" lengthAdjust="spacingAndGlyphs" stroke="#fdfdfd" stroke-width="1.00" paint-order="fill stroke" stroke-linejoin="round">5</tspan></text>
<text xml:space="preserve" fill="#262626"><tspan x="2307.51" y="1569.50" font-size="69.50" textLength="32.71" lengthAdjust="spacingAndGlyphs" stroke="#fdfdfd" stroke-width="1.00" paint-order="fill stroke" stroke-linejoin="round">1</tspan></text>
<text xml:space="preserve" fill="#262626" transform="rotate(-90)"><tspan x="-1234.82" y="93.50" font-size="71.00" textLength="365.11" lengthAdjust="spacingAndGlyphs" stroke="#fdfdfd" stroke-width="0.30" paint-order="fill stroke" stroke-linejoin="round">Normalized</tspan><tspan> </tspan><tspan x="-837.38" y="93.50" font-size="71.00" textLength="332.69" lengthAdjust="spacingAndGlyphs" stroke="#fdfdfd" stroke-width="0.30" paint-order="fill stroke" stroke-linejoin="round">Amplitude</tspan><tspan> </tspan><tspan x="-477.54" y="94.60" font-size="81.50" textLength="23.25" lengthAdjust="spacingAndGlyphs" stroke="#fdfdfd" stroke-width="1.00" paint-order="fill stroke" stroke-linejoin="round">(</tspan><tspan x="-453.80" y="93.90" font-size="68.00" textLength="45.49" lengthAdjust="spacingAndGlyphs" font-style="italic" stroke="#fdfdfd" stroke-width="1.20" paint-order="fill stroke" stroke-linejoin="round">α</tspan><tspan x="-405.67" y="101.80" font-size="48.00" textLength="20.04" lengthAdjust="spacingAndGlyphs" font-style="italic" stroke="#fdfdfd" stroke-width="0.80" paint-order="fill stroke" stroke-linejoin="round">i</tspan><tspan x="-383.04" y="94.60" font-size="81.50" textLength="22.67" lengthAdjust="spacingAndGlyphs" stroke="#fdfdfd" stroke-width="1.00" paint-order="fill stroke" stroke-linejoin="round">)</tspan></text>
<text xml:space="preserve" fill="#262626"><tspan x="1101.12" y="1661.00" font-size="74.50" textLength="153.17" lengthAdjust="spacingAndGlyphs">delay</tspan><tspan> </tspan><tspan x="1287.42" y="1660.40" font-size="73.50" textLength="27.95" lengthAdjust="spacingAndGlyphs" stroke="#fdfdfd" stroke-width="1.70" paint-order="fill stroke" stroke-linejoin="round">(</tspan><tspan x="1313.05" y="1661.30" font-size="70.00" textLength="36.49" lengthAdjust="spacingAndGlyphs" font-style="italic" stroke="#fdfdfd" stroke-width="1.20" paint-order="fill stroke" stroke-linejoin="round">τ</tspan><tspan x="1347.00" y="1697.00" font-size="60.00" textLength="13.89" lengthAdjust="spacingAndGlyphs">i</tspan><tspan x="1361.25" y="1660.40" font-size="73.50" textLength="27.16" lengthAdjust="spacingAndGlyphs" stroke="#fdfdfd" stroke-width="1.70" paint-order="fill stroke" stroke-linejoin="round">)</tspan><tspan> </tspan><tspan x="1403.20" y="1661.30" font-size="79.50" textLength="21.62" lengthAdjust="spacingAndGlyphs" stroke="#fdfdfd" stroke-width="1.80" paint-order="fill stroke" stroke-linejoin="round">/</tspan><tspan> </tspan><tspan x="1441.07" y="1661.00" font-size="74.50" textLength="126.19" lengthAdjust="spacingAndGlyphs">chip</tspan></text>
<text xml:space="preserve" fill="#000"><tspan x="1900.27" y="211.00" font-size="66.50" textLength="304.09" lengthAdjust="spacingAndGlyphs" stroke="#fdfdfd" stroke-width="0.40" paint-order="fill stroke" stroke-linejoin="round">ideal signal</tspan></text>
<text xml:space="preserve" fill="#000"><tspan x="1898.42" y="293.30" font-size="66.50" textLength="432.86" lengthAdjust="spacingAndGlyphs" stroke="#fdfdfd" stroke-width="0.40" paint-order="fill stroke" stroke-linejoin="round">estimated signal</tspan></text>
</svg>
</body></html>
